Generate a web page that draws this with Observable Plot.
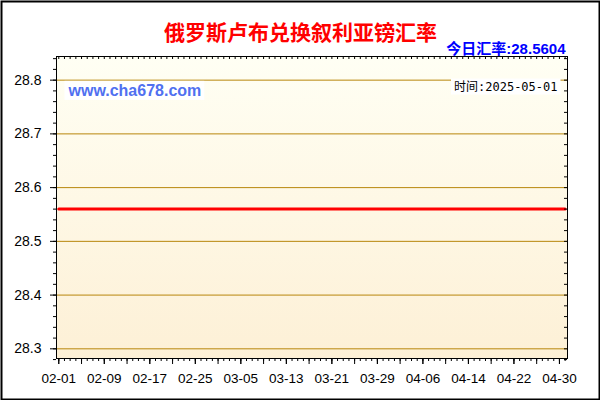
<!DOCTYPE html>
<html><head><meta charset="utf-8">
<script src="https://cdn.jsdelivr.net/npm/d3@7"></script>
<script src="https://cdn.jsdelivr.net/npm/@observablehq/plot@0.6"></script>
<style>body{margin:0;background:#fff}</style>
</head><body><div id="chart"></div>
<script>
const title = "俄罗斯卢布兑换叙利亚镑汇率";
const rateLabel = "今日汇率:28.5604";
const siteLabel = "www.cha678.com";
const timeLabel = "时间:2025-05-01";
const dates = ["2025-02-01","2025-02-09","2025-02-17","2025-02-25","2025-03-05","2025-03-13","2025-03-21","2025-03-29","2025-04-06","2025-04-14","2025-04-22","2025-04-30","2025-05-01"];
const rates = [28.5604,28.5604,28.5604,28.5604,28.5604,28.5604,28.5604,28.5604,28.5604,28.5604,28.5604,28.5604,28.5604];
const xTickLabels = ["02-01","02-09","02-17","02-25","03-05","03-13","03-21","03-29","04-06","04-14","04-22","04-30"];
const yTickLabels = [28.3,28.4,28.5,28.6,28.7,28.8];

const data = dates.map((d, i) => ({date: new Date(d), rate: rates[i]}));
const xLabelDates = xTickLabels.map(s => new Date("2025-" + s));
const labelMap = new Map(xLabelDates.map((d, i) => [+d, xTickLabels[i]]));
const dStart = new Date("2025-02-01"), dStop = new Date("2025-05-02");
const xMajor = d3.utcDay.range(dStart, dStop, 4);
const xMinor = d3.utcDay.range(dStart, dStop);
const yMinor = d3.range(1414, 1443).map(k => +(k * 0.02).toFixed(2));

const x0 = new Date(Date.UTC(2025, 0, 31, 14, 24));
const x1 = new Date(Date.UTC(2025, 4, 1, 10, 0));

const plot = Plot.plot({
  width: 600, height: 400,
  marginLeft: 56, marginRight: 33, marginTop: 56, marginBottom: 42,
  style: {fontFamily: "'Liberation Sans', Arial, sans-serif", fontSize: "14px", color: "#000", background: "#fff", overflow: "visible"},
  x: {type: "utc", domain: [x0, x1], label: null},
  y: {domain: [28.282, 28.844], label: null},
  marks: [
    Plot.frame({fill: "url(#bgGrad)", stroke: "none"}),
    Plot.gridY(yTickLabels, {stroke: "#b8860b", strokeOpacity: 1}),
    Plot.line(data, {x: "date", y: "rate", stroke: "red", strokeWidth: 3}),
    Plot.frame({stroke: "#000", strokeWidth: 1}),
    Plot.axisY(yTickLabels, {tickSize: 6, tickPadding: 9, tickFormat: d => d.toFixed(1), label: null}),
    Plot.axisY(yMinor, {tickSize: 3, tickFormat: () => "", label: null}),
    Plot.tickY(yMinor, {stroke: "#000", insetLeft: 508}),
    Plot.tickX(xMinor, {stroke: "#000", insetBottom: 299}),
    Plot.axisX(xMinor, {tickSize: 3, tickFormat: () => "", label: null}),
    Plot.axisX(xMajor, {tickSize: 6, tickFormat: () => "", label: null}),
    Plot.axisX(xLabelDates, {tickSize: 6, tickPadding: 9, fontSize: 13.5, tickFormat: d => labelMap.get(+d), label: null}),
    Plot.text([title], {text: d => d, frameAnchor: "top", dx: -11.5, dy: -31.5, fill: "red", fontSize: 21, fontWeight: "bold", fontFamily: "'Noto Sans CJK SC', sans-serif"}),
    Plot.text([rateLabel], {text: d => d, frameAnchor: "top-right", textAnchor: "end", dx: -2, dy: -13, fill: "#0000ff", fontSize: 15, fontWeight: "bold", fontFamily: "'Liberation Sans', 'Noto Sans CJK SC', sans-serif"}),
    Plot.text([siteLabel], {text: d => d, frameAnchor: "top-left", textAnchor: "start", dx: 12, dy: 28, fill: "#5070f0", fontSize: 16, fontWeight: "bold", fontFamily: "'Liberation Sans', Arial, sans-serif"}),
    Plot.text([timeLabel], {text: d => d, frameAnchor: "top-right", textAnchor: "end", dx: -10, dy: 25.5, fill: "#000", fontSize: 12, fontFamily: "'DejaVu Sans Mono', 'Noto Sans CJK SC', monospace"}),
    Plot.frame({stroke: "#000", strokeWidth: 2, insetTop: -55, insetLeft: -55, insetRight: -32, insetBottom: -41})
  ]
});

document.getElementById("chart").appendChild(plot);

const ns = "http://www.w3.org/2000/svg";
const defs = document.createElementNS(ns, "defs");
defs.innerHTML = '<linearGradient id="bgGrad" x1="0" y1="0" x2="0" y2="1"><stop offset="0" stop-color="#fffff4"/><stop offset="1" stop-color="#fdf0d6"/></linearGradient>';
plot.insertBefore(defs, plot.firstChild);

plot.querySelectorAll("text").forEach(t => {
  if (t.textContent === siteLabel || t.textContent === timeLabel) {
    const b = t.getBBox();
    const r = document.createElementNS(ns, "rect");
    r.setAttribute("x", b.x - 3);
    r.setAttribute("y", b.y - 1);
    r.setAttribute("width", b.width + 6);
    r.setAttribute("height", b.height + 2);
    r.setAttribute("fill", "#fff");
    const tr = t.getAttribute("transform");
    if (tr) r.setAttribute("transform", tr);
    t.parentNode.insertBefore(r, t);
  }
});
</script>
</body></html>
